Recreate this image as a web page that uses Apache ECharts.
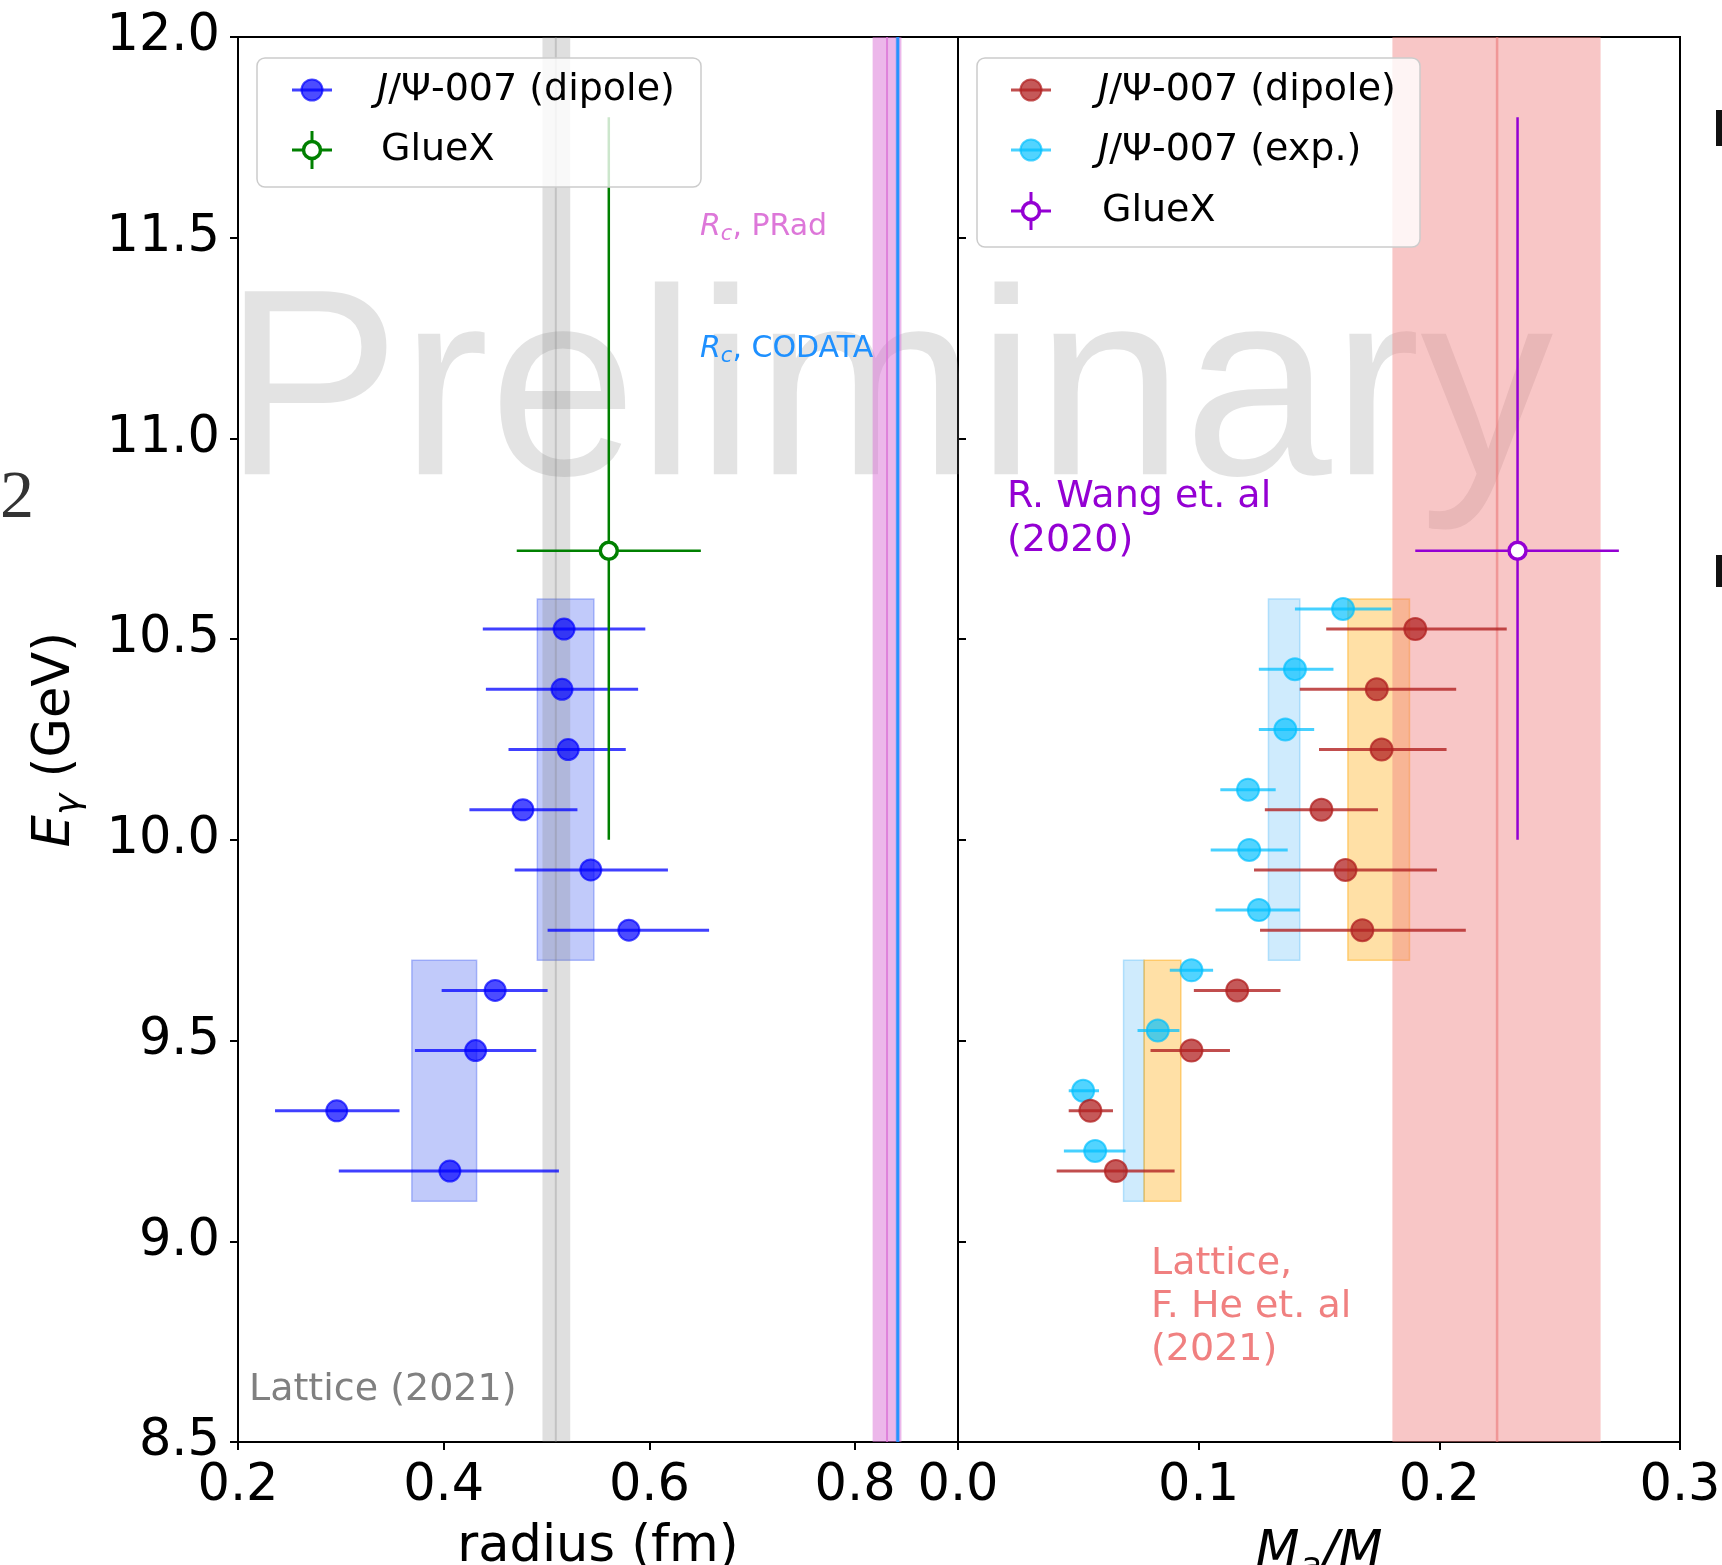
<!DOCTYPE html>
<html><head><meta charset="utf-8">
<script src="https://cdn.jsdelivr.net/npm/echarts@6/dist/echarts.min.js"></script>
<style>html,body{margin:0;padding:0;background:#fff}#c{width:1722px;height:1565px}</style>
</head><body><div id="c"></div>
<script>
// ---------------- data ----------------
const energyDipole = [10.525, 10.375, 10.225, 10.075, 9.925, 9.775, 9.625, 9.475, 9.325, 9.175];
const energyExp    = [10.575, 10.425, 10.275, 10.125, 9.975, 9.825, 9.675, 9.525, 9.375, 9.225];
const radius   = [0.517, 0.515, 0.521, 0.477, 0.543, 0.580, 0.450, 0.431, 0.296, 0.406];
const radiusLo = [0.438, 0.441, 0.463, 0.425, 0.469, 0.501, 0.398, 0.372, 0.236, 0.298];
const radiusHi = [0.596, 0.589, 0.577, 0.530, 0.618, 0.658, 0.501, 0.490, 0.357, 0.512];
const massDipole   = [0.190, 0.174, 0.176, 0.151, 0.161, 0.168, 0.116, 0.097, 0.055, 0.0656];
const massDipoleLo = [0.153, 0.142, 0.150, 0.1275, 0.123, 0.1255, 0.098, 0.080, 0.046, 0.041];
const massDipoleHi = [0.228, 0.207, 0.203, 0.1745, 0.199, 0.211, 0.134, 0.113, 0.0644, 0.090];
const massExp   = [0.160, 0.140, 0.136, 0.1205, 0.121, 0.125, 0.097, 0.083, 0.052, 0.057];
const massExpLo = [0.140, 0.125, 0.125, 0.109, 0.105, 0.107, 0.088, 0.0746, 0.046, 0.044];
const massExpHi = [0.180, 0.156, 0.148, 0.132, 0.137, 0.142, 0.106, 0.092, 0.0586, 0.0696];
// GlueX: [value, lo, hi]
const gluexEnergy = [10.72, 10.0, 11.8];
const gluexRadius = [0.5605, 0.471, 0.650];
const gluexMass   = [0.2325, 0.190, 0.2746];
// boxes: [xlo, xhi, ylo, yhi]
const radiusBoxes  = [[0.369, 0.432, 9.1, 9.7], [0.491, 0.546, 9.7, 10.6]];
const expBoxes     = [[0.0688, 0.0773, 9.1, 9.7], [0.129, 0.142, 9.7, 10.6]];
const dipoleBoxes  = [[0.0773, 0.0926, 9.1, 9.7], [0.162, 0.1876, 9.7, 10.6]];
// vertical bands: [lo, hi, centre]
const latticeRadiusBand = [0.496, 0.523, 0.509];
const pradBand   = [0.817, 0.845, 0.831];
const codataBand = [0.8395, 0.8433, 0.8414];
const latticeMassBand = [0.1805, 0.267, 0.224];
// axes
const yMin = 8.5, yMax = 12.0, yStep = 0.5;
const rMin = 0.2, rMax = 0.9, rStep = 0.2;
const mMin = 0.0, mMax = 0.3, mStep = 0.1;

// ---------------- helpers ----------------
const FONT = 'DejaVu Sans';
function errData(x, lo, hi, y) { return x.map((v, i) => [v, y[i], lo[i], hi[i], y[i], y[i]]); }
function errRender(lineColor, lw, r, fill, stroke, sw) {
  return function (params, api) {
    const x = api.value(0), y = api.value(1);
    const p = api.coord([x, y]);
    const pl = api.coord([api.value(2), y]);
    const pr = api.coord([api.value(3), y]);
    const ch = [{ type: 'line', shape: { x1: pl[0], y1: pl[1], x2: pr[0], y2: pr[1] }, style: { stroke: lineColor, lineWidth: lw } }];
    if (api.value(4) !== api.value(5)) {
      const pb = api.coord([x, api.value(4)]), pt = api.coord([x, api.value(5)]);
      ch.push({ type: 'line', shape: { x1: pb[0], y1: pb[1], x2: pt[0], y2: pt[1] }, style: { stroke: lineColor, lineWidth: lw } });
    }
    ch.push({ type: 'circle', shape: { cx: p[0], cy: p[1], r: r }, style: { fill: fill, stroke: stroke, lineWidth: sw } });
    return { type: 'group', children: ch };
  };
}
function boxRender(fill, stroke) {
  return function (params, api) {
    const a = api.coord([api.value(0), api.value(3)]);
    const b = api.coord([api.value(1), api.value(2)]);
    return { type: 'rect', shape: { x: a[0], y: a[1], width: b[0] - a[0], height: b[1] - a[1] }, style: { fill: fill, stroke: stroke, lineWidth: 1.5 } };
  };
}
function bandRender(fill, line, lw) {
  return function (params, api) {
    const a = api.coord([api.value(0), yMax]);
    const b = api.coord([api.value(1), yMin]);
    const c1 = api.coord([api.value(2), yMax]);
    const c2 = api.coord([api.value(2), yMin]);
    return { type: 'group', children: [
      { type: 'rect', shape: { x: a[0], y: a[1], width: b[0] - a[0], height: b[1] - a[1] }, style: { fill: fill } },
      { type: 'line', shape: { x1: c1[0], y1: c1[1], x2: c2[0], y2: c2[1] }, style: { stroke: line, lineWidth: lw } }
    ] };
  };
}
const BLUE_L = 'rgba(0,0,255,0.75)', BLUE_F = 'rgba(0,0,255,0.7)';
const RED_L = 'rgba(178,34,34,0.8)', RED_F = 'rgba(178,34,34,0.75)';
const CY_L = 'rgba(0,191,255,0.72)', CY_F = 'rgba(0,191,255,0.68)';
const GREEN = '#008000', PURPLE = '#9400d3';

const axisRich = {
  it: { fontFamily: FONT, fontStyle: 'italic', fontSize: 51, color: '#000' },
  sub: { fontFamily: FONT, fontStyle: 'italic', fontSize: 36, color: '#000', padding: [28, 0, 0, 0] },
  n: { fontFamily: FONT, fontSize: 51, color: '#000' }
};

function legendGraphics(x0, y0, w, h, items) {
  const els = [{ type: 'rect', z: 100, shape: { x: x0, y: y0, width: w, height: h, r: 8 }, style: { fill: 'rgba(255,255,255,0.8)', stroke: '#cccccc', lineWidth: 1.5 } }];
  items.forEach(it => {
    const mx = it.mx, my = it.my;
    els.push({ type: 'line', z: 101, shape: { x1: mx - 20, y1: my, x2: mx + 20, y2: my }, style: { stroke: it.line, lineWidth: 3 } });
    if (it.open) {
      els.push({ type: 'line', z: 101, shape: { x1: mx, y1: my - 19, x2: mx, y2: my + 19 }, style: { stroke: it.line, lineWidth: 3 } });
      els.push({ type: 'circle', z: 102, shape: { cx: mx, cy: my, r: 8.5 }, style: { fill: '#fff', stroke: it.line, lineWidth: 3.5 } });
    } else {
      els.push({ type: 'circle', z: 102, shape: { cx: mx, cy: my, r: 10.5 }, style: { fill: it.fill, stroke: it.fill, lineWidth: 2 } });
    }
    els.push({ type: 'text', z: 103, x: it.tx, y: my, style: { text: it.text, rich: {
      i: { fontFamily: FONT, fontStyle: 'italic', fontSize: 38, fill: '#000' },
      n: { fontFamily: FONT, fontSize: 38, fill: '#000' } }, font: '38px "DejaVu Sans"', fill: '#000', verticalAlign: 'middle', align: 'left' } });
  });
  return els;
}

const graphics = [].concat(
  [
    { type: 'text', z: 1, x: 223, y: 401, style: { text: 'Preliminary', font: '266px "Liberation Sans"', fill: 'rgba(128,128,128,0.22)', verticalAlign: 'middle', align: 'left' } },
    { type: 'text', z: 50, x: 17, y: 499, style: { text: '2', font: '68px "Liberation Serif"', fill: '#333', verticalAlign: 'middle', align: 'center' } },
    { type: 'rect', z: 50, shape: { x: 1716, y: 110, width: 6, height: 36 }, style: { fill: '#111' } },
    { type: 'rect', z: 50, shape: { x: 1716, y: 555, width: 6, height: 32 }, style: { fill: '#111' } },
    { type: 'text', z: 50, x: 700, y: 227, style: { text: '{i|R}{s|c}{n|, PRad}', rich: {
        i: { fontFamily: FONT, fontStyle: 'italic', fontSize: 30, fill: '#dd77d9' },
        s: { fontFamily: FONT, fontStyle: 'italic', fontSize: 21, fill: '#dd77d9', padding: [16, 0, 0, 0] },
        n: { fontFamily: FONT, fontSize: 30, fill: '#dd77d9' } }, verticalAlign: 'middle', align: 'left' } },
    { type: 'text', z: 50, x: 700, y: 349, style: { text: '{i|R}{s|c}{n|, CODATA}', rich: {
        i: { fontFamily: FONT, fontStyle: 'italic', fontSize: 30, fill: '#1e90ff' },
        s: { fontFamily: FONT, fontStyle: 'italic', fontSize: 21, fill: '#1e90ff', padding: [16, 0, 0, 0] },
        n: { fontFamily: FONT, fontSize: 30, fill: '#1e90ff' } }, verticalAlign: 'middle', align: 'left' } },
    { type: 'text', z: 50, x: 1007, y: 519, style: { text: 'R. Wang et. al\n(2020)', font: '38px "DejaVu Sans"', lineHeight: 44, fill: PURPLE, verticalAlign: 'middle', align: 'left' } },
    { type: 'text', z: 50, x: 1151, y: 1307, style: { text: 'Lattice,\nF. He et. al\n(2021)', font: '38px "DejaVu Sans"', lineHeight: 43, fill: '#f08080', verticalAlign: 'middle', align: 'left' } },
    { type: 'text', z: 50, x: 249, y: 1390, style: { text: 'Lattice (2021)', font: '38px "DejaVu Sans"', fill: '#808080', verticalAlign: 'middle', align: 'left' } }
  ],
  legendGraphics(257, 58, 444, 129, [
    { mx: 312, my: 90, line: BLUE_L, fill: BLUE_F, tx: 377, text: '{i|J}{n|/Ψ-007 (dipole)}' },
    { mx: 312, my: 150, line: GREEN, open: true, tx: 381, text: '{n|GlueX}' }
  ]),
  legendGraphics(977, 58, 443, 189, [
    { mx: 1031, my: 90, line: RED_L, fill: RED_F, tx: 1098, text: '{i|J}{n|/Ψ-007 (dipole)}' },
    { mx: 1031, my: 150, line: CY_L, fill: CY_F, tx: 1098, text: '{i|J}{n|/Ψ-007 (exp.)}' },
    { mx: 1031, my: 211, line: PURPLE, open: true, tx: 1102, text: '{n|GlueX}' }
  ])
);

const fmt1 = v => (Math.abs(v - rMax) < 1e-9 ? '' : v.toFixed(1));

const option = {
  animation: false,
  backgroundColor: '#fff',
  grid: [
    { left: 238, top: 37, width: 720, height: 1405, show: true, borderColor: '#000', borderWidth: 2, backgroundColor: 'transparent', containLabel: false, outerBoundsMode: 'none' },
    { left: 958, top: 37, width: 722, height: 1405, show: true, borderColor: '#000', borderWidth: 2, backgroundColor: 'transparent', containLabel: false, outerBoundsMode: 'none' }
  ],
  xAxis: [
    { gridIndex: 0, type: 'value', min: rMin, max: rMax, interval: rStep,
      axisLine: { lineStyle: { color: '#000', width: 2 } }, axisTick: { length: 8, lineStyle: { width: 2, color: '#000' } },
      splitLine: { show: false }, axisLabel: { formatter: fmt1, fontFamily: FONT, fontSize: 51, color: '#000', margin: 19, showMaxLabel: false },
      name: 'radius (fm)', nameLocation: 'middle', nameGap: 80, nameTextStyle: { fontFamily: FONT, fontSize: 51, color: '#000' } },
    { gridIndex: 1, type: 'value', min: mMin, max: mMax, interval: mStep,
      axisLine: { lineStyle: { color: '#000', width: 2 } }, axisTick: { length: 8, lineStyle: { width: 2, color: '#000' } },
      splitLine: { show: false }, axisLabel: { formatter: v => v.toFixed(1), fontFamily: FONT, fontSize: 51, color: '#000', margin: 19 },
      name: '{it|M}{sub|a}{it|/M}', nameLocation: 'middle', nameGap: 80, nameTextStyle: { rich: axisRich } }
  ],
  yAxis: [
    { gridIndex: 0, type: 'value', min: yMin, max: yMax, interval: yStep,
      axisLine: { lineStyle: { color: '#000', width: 2 } }, axisTick: { length: 8, lineStyle: { width: 2, color: '#000' } },
      splitLine: { show: false }, axisLabel: { formatter: v => v.toFixed(1), fontFamily: FONT, fontSize: 51, color: '#000', margin: 18 },
      name: '{it|E}{sub|γ}{n| (GeV)}', nameLocation: 'middle', nameRotate: 90, nameGap: 150, nameTextStyle: { rich: axisRich } },
    { gridIndex: 1, type: 'value', min: yMin, max: yMax, interval: yStep,
      axisLine: { lineStyle: { color: '#000', width: 2 } }, axisTick: { inside: true, length: 8, lineStyle: { width: 2, color: '#000' } },
      splitLine: { show: false }, axisLabel: { show: false } }
  ],
  graphic: graphics,
  series: [
    // left panel
    { type: 'custom', xAxisIndex: 0, yAxisIndex: 0, z: 2, renderItem: boxRender('rgba(50,80,240,0.3)', 'rgba(50,80,240,0.35)'), data: radiusBoxes },
    { type: 'custom', xAxisIndex: 0, yAxisIndex: 0, z: 3, renderItem: bandRender('rgba(128,128,128,0.25)', 'rgba(128,128,128,0.3)', 2), data: [latticeRadiusBand] },
    { type: 'custom', xAxisIndex: 0, yAxisIndex: 0, z: 3, renderItem: bandRender('rgba(218,112,214,0.5)', 'rgba(218,112,214,0.75)', 2), data: [pradBand] },
    { type: 'custom', xAxisIndex: 0, yAxisIndex: 0, z: 3, renderItem: bandRender('rgba(30,144,255,0.5)', 'rgba(30,144,255,0.9)', 2.5), data: [codataBand] },
    { type: 'custom', xAxisIndex: 0, yAxisIndex: 0, z: 5, renderItem: errRender(BLUE_L, 3, 10.5, BLUE_F, BLUE_F, 2), data: errData(radius, radiusLo, radiusHi, energyDipole) },
    { type: 'custom', xAxisIndex: 0, yAxisIndex: 0, z: 6, renderItem: errRender(GREEN, 2.5, 8.5, '#fff', GREEN, 3.5),
      data: [[gluexRadius[0], gluexEnergy[0], gluexRadius[1], gluexRadius[2], gluexEnergy[1], gluexEnergy[2]]] },
    // right panel
    { type: 'custom', xAxisIndex: 1, yAxisIndex: 1, z: 2, renderItem: boxRender('rgba(135,206,250,0.4)', 'rgba(135,206,250,0.6)'), data: expBoxes },
    { type: 'custom', xAxisIndex: 1, yAxisIndex: 1, z: 2, renderItem: boxRender('rgba(255,165,0,0.35)', 'rgba(255,165,0,0.45)'), data: dipoleBoxes },
    { type: 'custom', xAxisIndex: 1, yAxisIndex: 1, z: 3, renderItem: bandRender('rgba(240,128,128,0.45)', 'rgba(235,120,120,0.6)', 2.5), data: [latticeMassBand] },
    { type: 'custom', xAxisIndex: 1, yAxisIndex: 1, z: 5, renderItem: errRender(CY_L, 3, 11, CY_F, CY_F, 2), data: errData(massExp, massExpLo, massExpHi, energyExp) },
    { type: 'custom', xAxisIndex: 1, yAxisIndex: 1, z: 5, renderItem: errRender(RED_L, 3, 11, RED_F, RED_F, 2), data: errData(massDipole, massDipoleLo, massDipoleHi, energyDipole) },
    { type: 'custom', xAxisIndex: 1, yAxisIndex: 1, z: 6, renderItem: errRender(PURPLE, 2.5, 8.5, '#fff', PURPLE, 3.5),
      data: [[gluexMass[0], gluexEnergy[0], gluexMass[1], gluexMass[2], gluexEnergy[1], gluexEnergy[2]]] }
  ]
};
const chart = echarts.init(document.getElementById('c'));
chart.setOption(option);
</script></body></html>
